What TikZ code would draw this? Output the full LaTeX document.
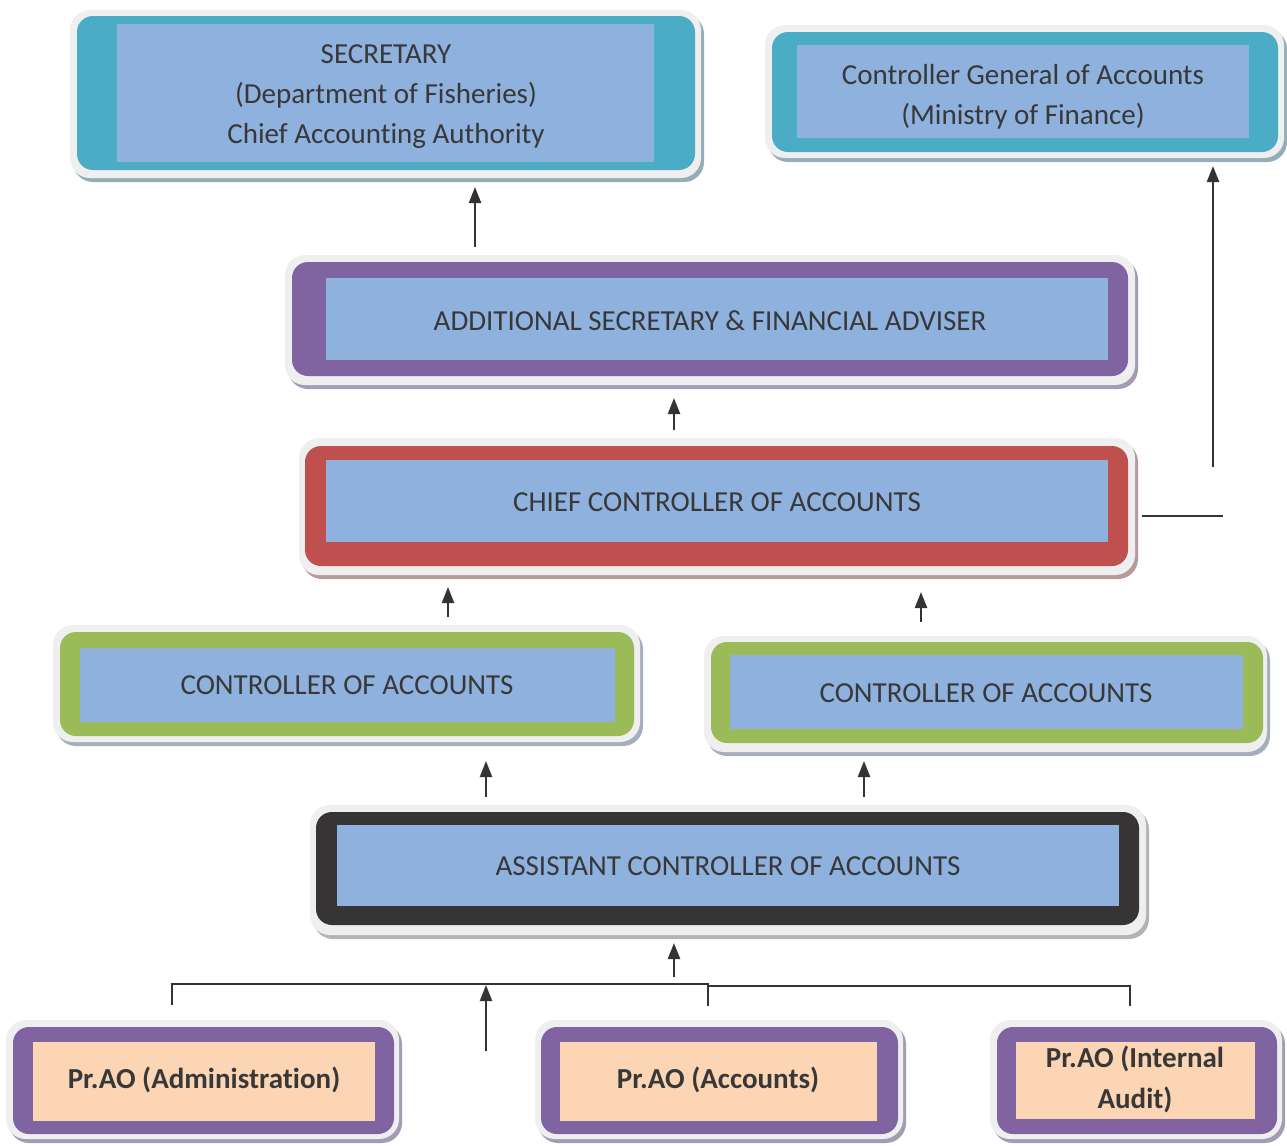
\documentclass[tikz,border=0pt]{standalone}
\usepackage{fontspec}
\setmainfont{Carlito}[Ligatures=NoCommon]
\usetikzlibrary{arrows.meta,fit}
\definecolor{outerc}{HTML}{EFEFEF}
\definecolor{tealc}{HTML}{4BACC6}
\definecolor{purpc}{HTML}{8064A2}
\definecolor{redc}{HTML}{C0504D}
\definecolor{greenc}{HTML}{9BBB59}
\definecolor{darkc}{HTML}{363435}
\definecolor{blueinner}{HTML}{8EB1DE}
\definecolor{peach}{HTML}{FCD5B5}
\definecolor{txtc}{HTML}{383838}
\definecolor{linec}{HTML}{333333}
\definecolor{shteal}{HTML}{93AEB8}
\definecolor{shpurp}{HTML}{A39CB4}
\definecolor{shred}{HTML}{B89A9A}
\definecolor{shgreen}{HTML}{A6AEBE}
\definecolor{shdark}{HTML}{B4B4B4}
\begin{document}
\begin{tikzpicture}[x=0.5pt,y=-0.5pt,
  shadowbox/.style={rounded corners=10pt},
  outerbox/.style={fill=outerc, rounded corners=10pt},
  framebox/.style={rounded corners=8pt},
  innerbox/.style={inner sep=0pt, fill=blueinner},
  peachbox/.style={inner sep=0pt, fill=peach},
  label/.style={inner sep=0pt, text=txtc, align=center,
    font=\fontsize{14.5}{20}\selectfont},
  blabel/.style={label, font=\fontsize{14.5}{20.5}\selectfont\bfseries},
  arr/.style={draw=linec, line width=1.2pt, -{Triangle[length=8pt,width=6pt]}},
  conn/.style={draw=linec, line width=0.8pt}]
\useasboundingbox (0,0) rectangle (1287,1146);

% SECRETARY
\fill[shadowbox, fill=shteal] (73,14) rectangle (704,182);
\fill[outerbox] (70,10) rectangle (701,178);
\fill[framebox, fill=tealc] (77,16) rectangle (695,170);
\node[innerbox, fit={(117,24) (654,162)}] (sec) {};
\node[label] (sec-t) at (386,97) {SECRETARY\\(Department of Fisheries)\\Chief Accounting Authority};

% CGA
\fill[shadowbox, fill=shteal] (768,29) rectangle (1287,162);
\fill[outerbox] (765,25) rectangle (1284,158);
\fill[framebox, fill=tealc] (772,32) rectangle (1278,152);
\node[innerbox, fit={(797,45) (1249,138)}] (cga) {};
\node[label] (cga-t) at (1023,97) {Controller General of Accounts\\(Ministry of Finance)};

% ASFA
\fill[shadowbox, fill=shpurp] (288,259) rectangle (1138,389);
\fill[outerbox] (285,255) rectangle (1135,385);
\fill[framebox, fill=purpc] (292,262) rectangle (1128,376);
\node[innerbox, fit={(326,278) (1108,360)}] (asfa) {};
\node[label] (asfa-t) at (710,321) {ADDITIONAL SECRETARY \& FINANCIAL ADVISER};

% CCA
\fill[shadowbox, fill=shred] (302,442) rectangle (1138,579);
\fill[outerbox] (299,438) rectangle (1135,575);
\fill[framebox, fill=redc] (305,446) rectangle (1128,566);
\node[innerbox, fit={(326,460) (1108,542)}] (cca) {};
\node[label] (cca-t) at (717,502) {CHIEF CONTROLLER OF ACCOUNTS};

% CoA left
\fill[shadowbox, fill=shgreen] (56,629) rectangle (643,746);
\fill[outerbox] (53,625) rectangle (640,742);
\fill[framebox, fill=greenc] (60,632) rectangle (634,736);
\node[innerbox, fit={(80,648) (615,722)}] (coal) {};
\node[label] (coal-t) at (347,685) {CONTROLLER OF ACCOUNTS};

% CoA right
\fill[shadowbox, fill=shgreen] (707,640) rectangle (1270,756);
\fill[outerbox] (704,636) rectangle (1267,752);
\fill[framebox, fill=greenc] (711,642) rectangle (1263,743);
\node[innerbox, fit={(730,655) (1243,729)}] (coar) {};
\node[label] (coar-t) at (986,693) {CONTROLLER OF ACCOUNTS};

% ACA
\fill[shadowbox, fill=shdark] (313,809) rectangle (1149,939);
\fill[outerbox] (310,805) rectangle (1146,935);
\fill[framebox, fill=darkc] (316,812) rectangle (1139,925);
\node[innerbox, fit={(337,825) (1119,906)}] (aca) {};
\node[label] (aca-t) at (728,866) {ASSISTANT CONTROLLER OF ACCOUNTS};

% Pr.AO Administration
\fill[shadowbox, fill=shpurp] (9,1024) rectangle (402,1143);
\fill[outerbox] (6,1020) rectangle (399,1139);
\fill[framebox, fill=purpc] (13,1027) rectangle (394,1134);
\node[peachbox, fit={(33,1042) (375,1121)}] (adm) {};
\node[blabel] (adm-t) at (204,1080) {Pr.AO (Administration)};

% Pr.AO Accounts
\fill[shadowbox, fill=shpurp] (538,1024) rectangle (906,1143);
\fill[outerbox] (535,1020) rectangle (903,1139);
\fill[framebox, fill=purpc] (541,1027) rectangle (898,1134);
\node[peachbox, fit={(560,1042) (877,1121)}] (acc) {};
\node[blabel] (acc-t) at (718,1080) {Pr.AO (Accounts)};

% Pr.AO Internal Audit
\fill[shadowbox, fill=shpurp] (993,1024) rectangle (1285,1143);
\fill[outerbox] (990,1020) rectangle (1282,1139);
\fill[framebox, fill=purpc] (997,1027) rectangle (1277,1134);
\node[peachbox, fit={(1016,1042) (1255,1119)}] (ia) {};
\node[blabel] (ia-t) at (1135,1079) {Pr.AO (Internal\\Audit)};

% connector end points
\coordinate (a1s) at (475,247);  \coordinate (a1e) at (475,187);
\coordinate (a2s) at (674,430);  \coordinate (a2e) at (674,398);
\coordinate (a3s) at (448,617);  \coordinate (a3e) at (448,587);
\coordinate (a4s) at (921,622);  \coordinate (a4e) at (921,592);
\coordinate (a5s) at (486,797);  \coordinate (a5e) at (486,761);
\coordinate (a6s) at (864,797);  \coordinate (a6e) at (864,761);
\coordinate (a7s) at (674,977);  \coordinate (a7e) at (674,943);
\coordinate (a8s) at (486,1051); \coordinate (a8e) at (486,985);
\coordinate (h1) at (1142,516);  \coordinate (h2) at (1223,516);
\coordinate (v1s) at (1213,467); \coordinate (v1e) at (1213,166);
\coordinate (t1) at (172,1005);  \coordinate (t1b) at (172,984);
\coordinate (stepa) at (708,984); \coordinate (stepb) at (708,986);
\coordinate (t2) at (708,1006);
\coordinate (t3b) at (1130,986); \coordinate (t3) at (1130,1006);

\draw[arr] (a1s) -- (a1e);
\draw[arr] (a2s) -- (a2e);
\draw[arr] (a3s) -- (a3e);
\draw[arr] (a4s) -- (a4e);
\draw[arr] (a5s) -- (a5e);
\draw[arr] (a6s) -- (a6e);
\draw[arr] (a7s) -- (a7e);
\draw[arr] (a8s) -- (a8e);
\draw[conn] (h1) -- (h2);
\draw[arr] (v1s) -- (v1e);
\draw[conn] (t1) -- (t1b) -- (stepa) -- (stepb) -- (t3b) -- (t3);
\draw[conn] (stepb) -- (t2);
\end{tikzpicture}
\end{document}
